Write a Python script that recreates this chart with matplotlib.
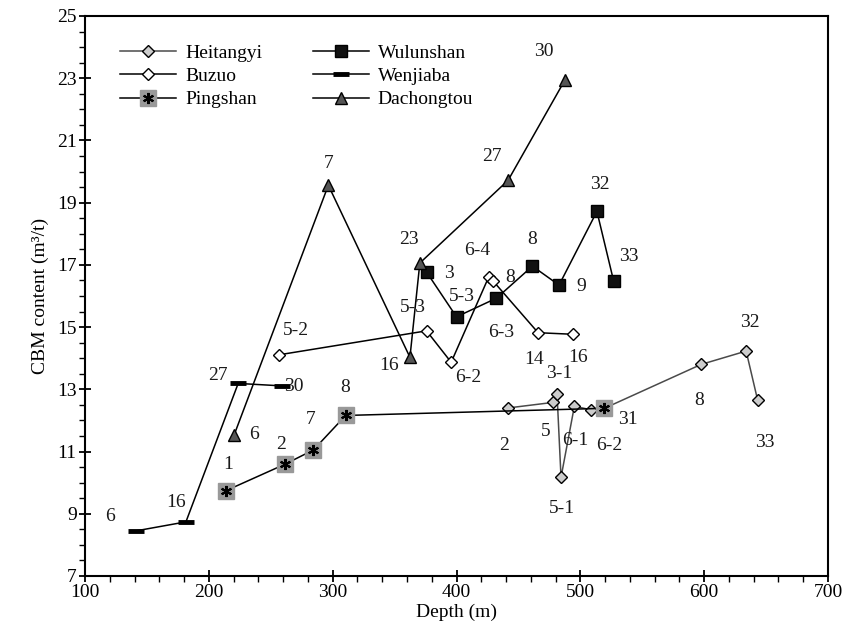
import matplotlib
matplotlib.use('Agg')
import matplotlib.pyplot as plt
from matplotlib.ticker import MultipleLocator, FixedLocator
from matplotlib.legend_handler import HandlerTuple

plt.rcParams['font.family'] = ['Liberation Serif', 'DejaVu Serif']

# data: depth (m), CBM content (m3/t)
heit_depth = [441.4, 478.0, 481.2, 484.4, 495.2, 508.6, 519.4, 597.5, 633.9, 643.2]
heit_cbm = [12.40, 12.58, 12.85, 10.17, 12.46, 12.34, 12.39, 13.80, 14.23, 12.65]

buzuo_depth = [256.7, 375.8, 395.7, 426.0, 429.6, 465.9, 493.8]
buzuo_cbm = [14.11, 14.88, 13.87, 16.61, 16.48, 14.82, 14.77]

ping_depth = [213.7, 261.3, 284.4, 310.5, 519.4]
ping_cbm = [9.74, 10.59, 11.05, 12.16, 12.39]

wul_depth = [375.8, 400.0, 432.3, 461.3, 482.8, 513.4, 526.9]
wul_cbm = [16.77, 15.33, 15.93, 16.96, 16.35, 18.72, 16.48]

wen_depth = [141.1, 181.5, 223.7, 259.4]
wen_cbm = [8.45, 8.74, 13.19, 13.11]

dach_depth = [220.4, 296.5, 362.4, 370.4, 441.7, 487.4]
dach_cbm = [11.53, 19.56, 14.03, 17.06, 19.72, 22.93]

y_ticks = list(range(7, 26, 2))

# seam labels written next to the points (text, depth, cbm)
seam_labels = [
    ('30', 470.4, 23.87), ('27', 428.8, 20.47), ('7', 296.5, 20.26),
    ('23', 361.9, 17.82), ('6-4', 416.7, 17.47), ('8', 461.3, 17.82),
    ('32', 516.1, 19.59), ('33', 539.0, 17.28), ('3', 394.1, 16.72),
    ('8', 443.5, 16.61), ('9', 500.8, 16.32), ('5-3', 404.6, 15.97),
    ('5-3', 364.5, 15.63), ('6-3', 436.0, 14.82), ('5-2', 270.2, 14.90),
    ('16', 345.4, 13.78), ('14', 462.9, 13.97), ('16', 498.4, 14.03),
    ('6-2', 409.1, 13.38), ('3-1', 483.3, 13.51), ('27', 207.0, 13.46),
    ('30', 268.8, 13.10), ('8', 309.9, 13.05), ('32', 637.1, 15.14),
    ('8', 596.2, 12.63), ('33', 649.2, 11.28), ('2', 438.7, 11.21),
    ('5', 472.0, 11.64), ('6-1', 496.0, 11.37), ('6-2', 523.6, 11.21),
    ('31', 538.4, 12.03), ('5-1', 485.2, 9.17), ('7', 282.3, 12.03),
    ('6', 236.5, 11.56), ('2', 258.1, 11.24), ('1', 215.6, 10.57),
    ('16', 173.4, 9.35), ('6', 120.4, 8.90),
]

fig = plt.figure(figsize=(8.58, 6.36), dpi=100)
ax = fig.add_axes([85 / 858, 1 - 576 / 636, (828 - 85) / 858, (576 - 16) / 636])

lw = 1.1
h_heit, = ax.plot(heit_depth, heit_cbm, color='#4a4a4a', lw=lw, marker='D', ms=6,
                  mfc='#cccccc', mec='black', mew=1.0, zorder=3)
h_buzuo, = ax.plot(buzuo_depth, buzuo_cbm, color='black', lw=lw, marker='D', ms=6,
                   mfc='white', mec='black', mew=1.0, zorder=3)
h_ping, = ax.plot(ping_depth, ping_cbm, color='black', lw=lw, marker='s', ms=12,
                  mfc='#999999', mec='#999999', zorder=4)
h_ping_star, = ax.plot(ping_depth, ping_cbm, ls='none', marker=(6, 2, 0), ms=8,
                       mec='black', mew=1.5, zorder=5)
h_wul, = ax.plot(wul_depth, wul_cbm, color='black', lw=lw, marker='s', ms=8,
                 mfc='#111111', mec='black', zorder=3)
h_wen, = ax.plot(wen_depth, wen_cbm, color='black', lw=lw, marker='_', ms=12,
                 mec='black', mew=3.5, zorder=3)
h_dach, = ax.plot(dach_depth, dach_cbm, color='black', lw=lw, marker='^', ms=9,
                  mfc='#555555', mec='black', mew=1.0, zorder=3)

for txt, xd, yd in seam_labels:
    ax.text(xd, yd, txt, ha='center', va='center', fontsize=14, color='#1a1a1a')

ax.set_xlim(100, 700)
ax.set_ylim(7, 25)
ax.xaxis.set_major_locator(MultipleLocator(100))
ax.xaxis.set_minor_locator(MultipleLocator(20))
ax.yaxis.set_major_locator(FixedLocator(y_ticks))
ax.yaxis.set_minor_locator(MultipleLocator(0.5))
ax.tick_params(which='major', direction='inout', length=8, width=1.3, labelsize=14, pad=2)
ax.tick_params(which='minor', direction='out', length=4, width=1.0)
for spine in ax.spines.values():
    spine.set_linewidth(1.5)

ax.set_xlabel('Depth (m)', fontsize=14, labelpad=2)
ax.set_ylabel('CBM content (m³/t)', fontsize=14, labelpad=6)

ax.legend([h_heit, h_buzuo, (h_ping, h_ping_star), h_wul, h_wen, h_dach],
          ['Heitangyi', 'Buzuo', 'Pingshan', 'Wulunshan', 'Wenjiaba', 'Dachongtou'],
          handler_map={tuple: HandlerTuple(ndivide=1)},
          ncol=2, frameon=False, loc='upper left',
          bbox_to_anchor=(120 / 858, 1 - 44 / 636), bbox_transform=fig.transFigure,
          borderaxespad=0, borderpad=0, fontsize=14, handlelength=2.9,
          handletextpad=0.45, columnspacing=2.6, labelspacing=0.3)

fig.savefig('out.png', dpi=100, facecolor='white')
